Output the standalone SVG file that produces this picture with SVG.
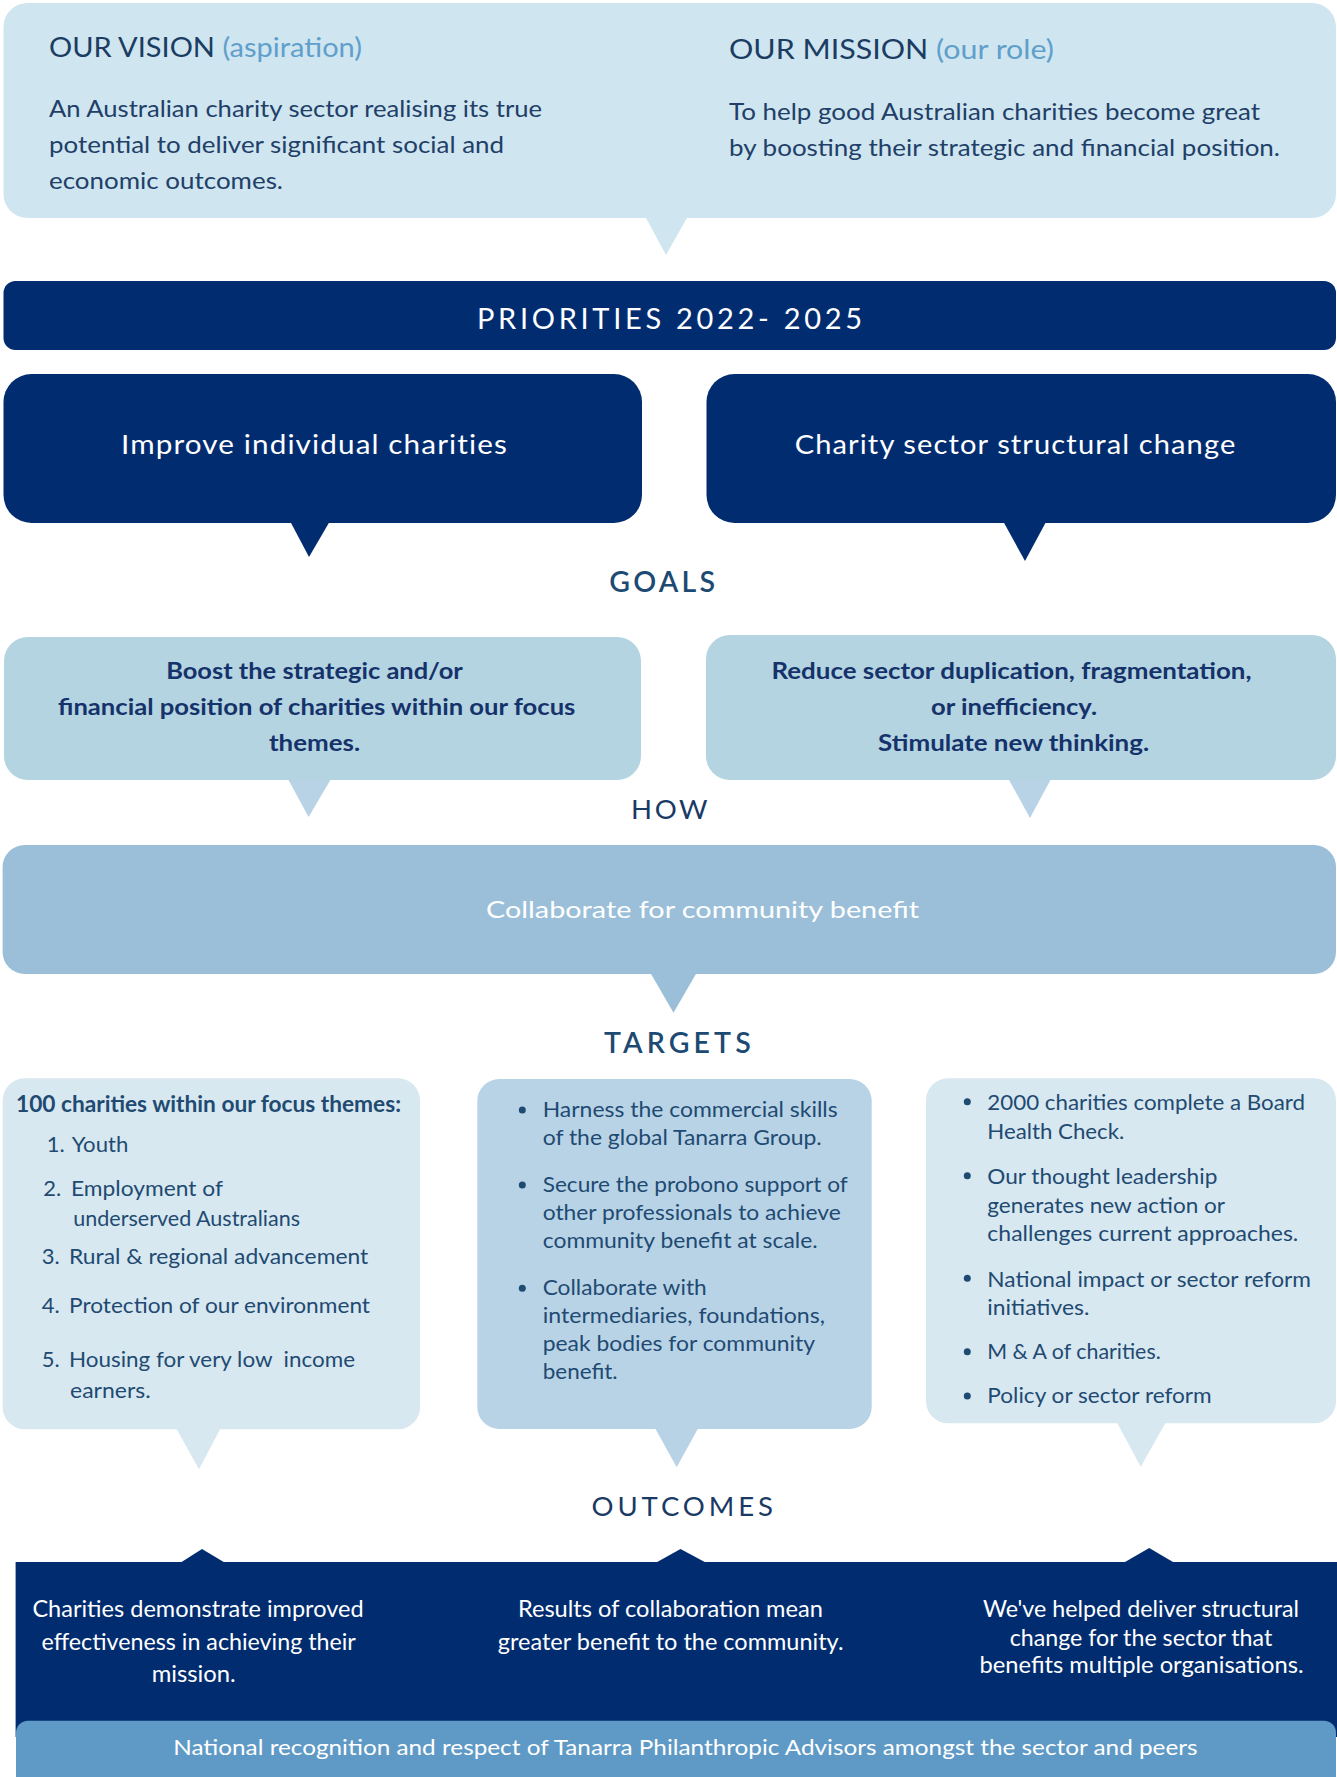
<svg xmlns="http://www.w3.org/2000/svg" width="1337" height="1777" viewBox="0 0 1337 1777">
<style>
text{font-family:Lato,"Source Sans Pro","Liberation Sans",sans-serif}
.hd{font-size:27px}
.dk{fill:#1b3c63}
.ac{fill:#5f9fcc}
.body{font-size:22.3px;fill:#213f68}
.wt{fill:#ffffff}
.pri{font-size:26.5px;fill:#ffffff;letter-spacing:1px}
.ttl{font-size:28.5px;font-weight:600;fill:#1c4a72}
.ttl2{font-size:27.5px;font-weight:400;fill:#1a3a66}
.goal{font-size:22.3px;font-weight:700;fill:#15326b}
.tg{font-size:22px;fill:#1f4a72}
.ot{font-size:22.5px;fill:#ffffff}
.navy{fill:#012d70}
.top{fill:#cfe5ef}
.gb{fill:#b3d4e0}
.gp{fill:#b9d3e6}
.cb{fill:#9bbfd9}
.tl{fill:#d7e8f0}
.tm{fill:#b8d3e6}
.bul{fill:#1f4a72}
</style>
<rect width="1337" height="1777" fill="#ffffff"/>

<g id="connectors">
  <polygon class="top" points="645,216 688,216 666,255"/>
  <polygon class="navy" points="290,521 330,521 309,557"/>
  <polygon class="navy" points="1003,521 1046.5,521 1025,561"/>
  <polygon class="gp" points="288,779 331,779 308.6,817"/>
  <polygon class="gp" points="1008.5,779 1051,779 1030,818"/>
  <polygon class="cb" points="650.5,973 696.5,973 673.5,1012.7"/>
  <polygon class="tl" points="176,1428 220.7,1428 199,1469.3"/>
  <polygon class="tm" points="655,1428 698.3,1428 676.7,1467.3"/>
  <polygon class="tl" points="1116.7,1422 1166,1422 1140.7,1466.7"/>
  <polygon class="navy" points="180,1563 202,1549 225.4,1563"/>
  <polygon class="navy" points="655.4,1563 680.5,1549 706.6,1563"/>
  <polygon class="navy" points="1123.3,1563 1149.2,1548 1174.7,1563"/>
</g>

<g id="vision-mission">
  <rect class="top" x="3.5" y="3" width="1332.5" height="215" rx="24"/>
  <text class="hd" x="49" y="57" textLength="313" lengthAdjust="spacingAndGlyphs"><tspan class="dk">OUR VISION </tspan><tspan class="ac">(aspiration)</tspan></text>
  <text class="body" x="49" y="116.7" textLength="493" lengthAdjust="spacingAndGlyphs">An Australian charity sector realising its true</text>
  <text class="body" x="49" y="152.7" textLength="455" lengthAdjust="spacingAndGlyphs">potential to deliver significant social and</text>
  <text class="body" x="49" y="189" textLength="234" lengthAdjust="spacingAndGlyphs">economic outcomes.</text>
  <text class="hd" x="729" y="59.3" textLength="325" lengthAdjust="spacingAndGlyphs"><tspan class="dk">OUR MISSION </tspan><tspan class="ac">(our role)</tspan></text>
  <text class="body" x="729" y="120" textLength="531" lengthAdjust="spacingAndGlyphs">To help good Australian charities become great</text>
  <text class="body" x="729" y="156" textLength="551" lengthAdjust="spacingAndGlyphs">by boosting their strategic and financial position.</text>
</g>

<g id="priorities">
  <rect class="navy" x="3.5" y="281" width="1332.5" height="69" rx="12"/>
  <text x="477" y="329.3" font-size="29" class="wt" textLength="385" lengthAdjust="spacing">PRIORITIES 2022- 2025</text>
</g>

<g id="improve-individual">
  <rect class="navy" x="3.5" y="374" width="638.5" height="149" rx="28"/>
  <text class="pri" x="121" y="454" textLength="387" lengthAdjust="spacingAndGlyphs">Improve individual charities</text>
</g>

<g id="sector-change">
  <rect class="navy" x="706.5" y="374" width="629.5" height="149" rx="28"/>
  <text class="pri" x="794.7" y="454" textLength="441.7" lengthAdjust="spacingAndGlyphs">Charity sector structural change</text>
</g>

<g id="goals-label">
  <text class="ttl" x="609.3" y="592.3" textLength="105.7" lengthAdjust="spacing">GOALS</text>
</g>

<g id="goal-left">
  <rect class="gb" x="4" y="637" width="637" height="143" rx="24"/>
  <text class="goal" x="314.5" y="679.3" text-anchor="middle" textLength="296.7" lengthAdjust="spacingAndGlyphs">Boost the strategic and/or</text>
  <text class="goal" x="316.7" y="715" text-anchor="middle" textLength="517.4" lengthAdjust="spacingAndGlyphs">financial position of charities within our focus</text>
  <text class="goal" x="314.5" y="750.7" text-anchor="middle" textLength="91.2" lengthAdjust="spacingAndGlyphs">themes.</text>
</g>

<g id="goal-right">
  <rect class="gb" x="706" y="635" width="630" height="145" rx="24"/>
  <text class="goal" x="1011.5" y="679.3" text-anchor="middle" textLength="480" lengthAdjust="spacingAndGlyphs">Reduce sector duplication, fragmentation,</text>
  <text class="goal" x="1014" y="715" text-anchor="middle" textLength="166" lengthAdjust="spacingAndGlyphs">or inefficiency.</text>
  <text class="goal" x="1013.6" y="750.7" text-anchor="middle" textLength="271" lengthAdjust="spacingAndGlyphs">Stimulate new thinking.</text>
</g>

<g id="how-label">
  <text class="ttl2" x="631" y="819.3" textLength="76.6" lengthAdjust="spacing">HOW</text>
</g>

<g id="collaborate">
  <rect class="cb" x="2.6" y="845" width="1333.4" height="129" rx="22"/>
  <text x="702.5" y="918.3" font-size="23" class="wt" text-anchor="middle" textLength="433" lengthAdjust="spacingAndGlyphs">Collaborate for community benefit</text>
</g>

<g id="targets-label">
  <text class="ttl" x="604" y="1053.3" textLength="146.7" lengthAdjust="spacing">TARGETS</text>
</g>

<g id="target-left">
  <rect class="tl" x="2.7" y="1078.3" width="417.3" height="351" rx="22"/>
  <text class="tg" x="16" y="1111.7" font-weight="700" textLength="385" lengthAdjust="spacingAndGlyphs">100 charities within our focus themes:</text>
  <text class="tg" x="46.7" y="1151.7">1.</text>
  <text class="tg" x="71.7" y="1151.7" textLength="56.6" lengthAdjust="spacingAndGlyphs">Youth</text>
  <text class="tg" x="43.3" y="1196">2.</text>
  <text class="tg" x="71" y="1196" textLength="152" lengthAdjust="spacingAndGlyphs">Employment of</text>
  <text class="tg" x="73.3" y="1225.7" textLength="226.7" lengthAdjust="spacingAndGlyphs">underserved Australians</text>
  <text class="tg" x="41.7" y="1264">3.</text>
  <text class="tg" x="69" y="1264" textLength="299.3" lengthAdjust="spacingAndGlyphs">Rural &amp; regional advancement</text>
  <text class="tg" x="41.7" y="1313.3">4.</text>
  <text class="tg" x="69" y="1313.3" textLength="301" lengthAdjust="spacingAndGlyphs">Protection of our environment</text>
  <text class="tg" x="41.7" y="1367.3">5.</text>
  <text class="tg" x="69" y="1367.3" style="white-space:pre" textLength="286" lengthAdjust="spacingAndGlyphs">Housing for very low  income</text>
  <text class="tg" x="70" y="1398.3" textLength="80.7" lengthAdjust="spacingAndGlyphs">earners.</text>
</g>

<g id="target-middle">
  <rect class="tm" x="477.3" y="1079" width="394.4" height="350" rx="22"/>
  <circle class="bul" cx="522.3" cy="1110" r="3.5"/>
  <circle class="bul" cx="522.3" cy="1185" r="3.5"/>
  <circle class="bul" cx="522.3" cy="1288.3" r="3.5"/>
  <text class="tg" x="542.7" y="1117.3" textLength="295" lengthAdjust="spacingAndGlyphs">Harness the commercial skills</text>
  <text class="tg" x="542.7" y="1145" textLength="279" lengthAdjust="spacingAndGlyphs">of the global Tanarra Group.</text>
  <text class="tg" x="542.7" y="1191.7" textLength="305" lengthAdjust="spacingAndGlyphs">Secure the probono support of</text>
  <text class="tg" x="542.7" y="1220" textLength="298" lengthAdjust="spacingAndGlyphs">other professionals to achieve</text>
  <text class="tg" x="542.7" y="1247.7" textLength="275" lengthAdjust="spacingAndGlyphs">community benefit at scale.</text>
  <text class="tg" x="542.7" y="1295" textLength="164" lengthAdjust="spacingAndGlyphs">Collaborate with</text>
  <text class="tg" x="542.7" y="1323.3" textLength="282.3" lengthAdjust="spacingAndGlyphs">intermediaries, foundations,</text>
  <text class="tg" x="542.7" y="1351" textLength="272.3" lengthAdjust="spacingAndGlyphs">peak bodies for community</text>
  <text class="tg" x="542.7" y="1379" textLength="75" lengthAdjust="spacingAndGlyphs">benefit.</text>
</g>

<g id="target-right">
  <rect class="tl" x="926" y="1078.3" width="410" height="345" rx="22"/>
  <circle class="bul" cx="967.3" cy="1101.7" r="3.5"/>
  <circle class="bul" cx="967.3" cy="1175.7" r="3.5"/>
  <circle class="bul" cx="967.3" cy="1278.3" r="3.5"/>
  <circle class="bul" cx="967.3" cy="1351.7" r="3.5"/>
  <circle class="bul" cx="967.3" cy="1396" r="3.5"/>
  <text class="tg" x="987.3" y="1110" textLength="317.7" lengthAdjust="spacingAndGlyphs">2000 charities complete a Board</text>
  <text class="tg" x="987.3" y="1139" textLength="137" lengthAdjust="spacingAndGlyphs">Health Check.</text>
  <text class="tg" x="987.3" y="1184" textLength="230" lengthAdjust="spacingAndGlyphs">Our thought leadership</text>
  <text class="tg" x="987.3" y="1212.7" textLength="237.7" lengthAdjust="spacingAndGlyphs">generates new action or</text>
  <text class="tg" x="987.3" y="1241" textLength="311" lengthAdjust="spacingAndGlyphs">challenges current approaches.</text>
  <text class="tg" x="987.3" y="1286.7" textLength="323.7" lengthAdjust="spacingAndGlyphs">National impact or sector reform</text>
  <text class="tg" x="987.3" y="1315" textLength="102" lengthAdjust="spacingAndGlyphs">initiatives.</text>
  <text class="tg" x="987.3" y="1359" textLength="173.4" lengthAdjust="spacingAndGlyphs">M &amp; A of charities.</text>
  <text class="tg" x="987.3" y="1403.3" textLength="224.4" lengthAdjust="spacingAndGlyphs">Policy or sector reform</text>
</g>

<g id="outcomes-label">
  <text class="ttl2" x="591.5" y="1515.7" textLength="181.5" lengthAdjust="spacing">OUTCOMES</text>
</g>

<g id="outcomes">
  <rect class="navy" x="15.6" y="1562" width="1321.4" height="175"/>
  <text class="ot" x="198" y="1617.3" text-anchor="middle" textLength="331.2" lengthAdjust="spacingAndGlyphs">Charities demonstrate improved</text>
  <text class="ot" x="198.7" y="1650" text-anchor="middle" textLength="314.3" lengthAdjust="spacingAndGlyphs">effectiveness in achieving their</text>
  <text class="ot" x="193.7" y="1681.7" text-anchor="middle" textLength="84" lengthAdjust="spacingAndGlyphs">mission.</text>
  <text class="ot" x="670.4" y="1617.3" text-anchor="middle" textLength="305" lengthAdjust="spacingAndGlyphs">Results of collaboration mean</text>
  <text class="ot" x="670.6" y="1650" text-anchor="middle" textLength="345.7" lengthAdjust="spacingAndGlyphs">greater benefit to the community.</text>
  <text class="ot" x="1141" y="1617.3" text-anchor="middle" textLength="316" lengthAdjust="spacingAndGlyphs">We've helped deliver structural</text>
  <text class="ot" x="1141" y="1645.7" text-anchor="middle" textLength="262.6" lengthAdjust="spacingAndGlyphs">change for the sector that</text>
  <text class="ot" x="1141.5" y="1673.3" text-anchor="middle" textLength="324" lengthAdjust="spacingAndGlyphs">benefits multiple organisations.</text>
</g>

<g id="recognition">
  <rect x="16" y="1720.7" width="1320" height="80" rx="12" fill="#5f9ac6"/>
  <text x="685.4" y="1755" font-size="22" class="wt" text-anchor="middle" textLength="1024.4" lengthAdjust="spacingAndGlyphs">National recognition and respect of Tanarra Philanthropic Advisors amongst the sector and peers</text>
</g>
</svg>
